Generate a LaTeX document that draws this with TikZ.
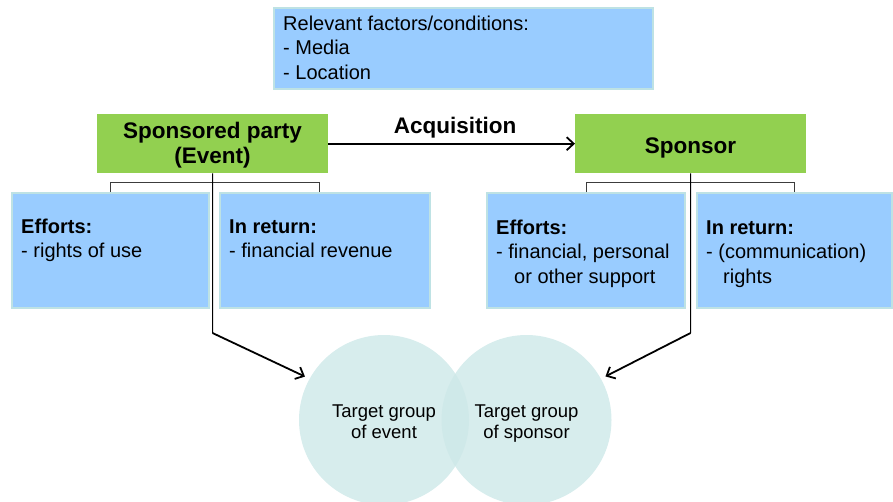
\documentclass[tikz,border=0pt]{standalone}
\usepackage{fontspec}
\setmainfont{Liberation Sans}
\usetikzlibrary{arrows.meta}
\definecolor{boxblue}{RGB}{153,204,255}
\definecolor{boxedge}{RGB}{190,226,228}
\definecolor{partygreen}{RGB}{146,208,80}
\definecolor{groupteal}{RGB}{205,232,232}
\definecolor{bracketgray}{RGB}{60,60,60}
% multi-line text blocks whose baseline is that of the first line
\newcommand\txtl[1]{\begin{tabular}[t]{@{}l@{}}#1\end{tabular}}
\newcommand\txtc[1]{\begin{tabular}[t]{@{}c@{}}#1\end{tabular}}
\begin{document}
\begin{tikzpicture}[x=1pt,y=-1pt,
  infobox/.style={draw=boxedge, line width=2pt, fill=boxblue, inner sep=0pt, anchor=north west},
  partybox/.style={fill=partygreen, inner sep=0pt, anchor=north west},
  group/.style={circle, fill=groupteal, fill opacity=0.8, minimum size=170pt, inner sep=0pt},
  bodytext/.style={inner sep=0pt, anchor=base west, font=\fontsize{20}{24.5}\selectfont},
  headtext/.style={inner sep=0pt, anchor=base, font=\fontsize{22.5}{25.5}\selectfont\bfseries},
  grouptext/.style={inner sep=0pt, anchor=base, font=\fontsize{18.5}{21.5}\selectfont},
  bracket/.style={draw=bracketgray, line width=0.9pt},
  stem/.style={draw=black, line width=1pt},
  link/.style={draw=black, line width=1.8pt, -{Straight Barb[length=7pt,width=13pt,line width=1.8pt]}},
]
\useasboundingbox (0,0) rectangle (893,501);

% factors box
\node[infobox, minimum width=379pt, minimum height=81pt] (factors) at (273,7) {};
\node[bodytext] (factorstext) at (283,30) {\txtl{Relevant factors/conditions:\\- Media\\- Location}};

% the two parties
\node[partybox, minimum width=231pt, minimum height=59pt] (party) at (97,114) {};
\node[partybox, minimum width=231pt, minimum height=59pt] (sponsor) at (575,114) {};
\node[headtext] (partytext) at (212.5,138) {\txtc{Sponsored party\\(Event)}};
\node[headtext] (sponsortext) at (690.5,153) {Sponsor};

% acquisition arrow
\draw[link] (party.east) -- (sponsor.west);
\node[headtext] (acq) at (455,133) {Acquisition};

% efforts / returns boxes
\node[infobox, minimum width=197pt, minimum height=115pt] (effL) at (11,192) {};
\node[infobox, minimum width=210pt, minimum height=115pt] (retL) at (219,192) {};
\node[infobox, minimum width=198pt, minimum height=115pt] (effR) at (486,192) {};
\node[infobox, minimum width=195pt, minimum height=115pt] (retR) at (696,192) {};

\node[bodytext] (effLtext) at (21,233) {\txtl{\textbf{Efforts:}\\- rights of use}};
\node[bodytext] (retLtext) at (229,233) {\txtl{\textbf{In return:}\\- financial revenue}};
\node[bodytext] (effRtext) at (496,234) {\txtl{\textbf{Efforts:}\\- financial, personal\\\hspace*{18pt}or other support}};
\node[bodytext] (retRtext) at (706,234) {\txtl{\textbf{In return:}\\- (communication)\\\hspace*{17pt}rights}};

% brackets
\draw[bracket] (effL.north) -- ++(0,-10) -| ([xshift=-6pt]retL.north);
\draw[bracket] (effR.north) -- ++(0,-10) -| (retR.north);

% target groups
\node[group] (evgroup) at (384,420) {};
\node[group] (spgroup) at (526.5,420) {};
\node[grouptext] (evtext) at (384,417) {\txtc{Target group\\of event}};
\node[grouptext] (sptext) at (526.5,417) {\txtc{Target group\\of sponsor}};

% links to target groups
\coordinate (lbend) at (212.5,333);
\coordinate (rbend) at (690.5,333);
\draw[stem] (party.south) -- (lbend);
\draw[stem] (sponsor.south) -- (rbend);
\draw[link, shorten >=5pt] (lbend) -- (evgroup.151);
\draw[link, shorten >=5pt] (rbend) -- (spgroup.29);
\end{tikzpicture}
\end{document}
